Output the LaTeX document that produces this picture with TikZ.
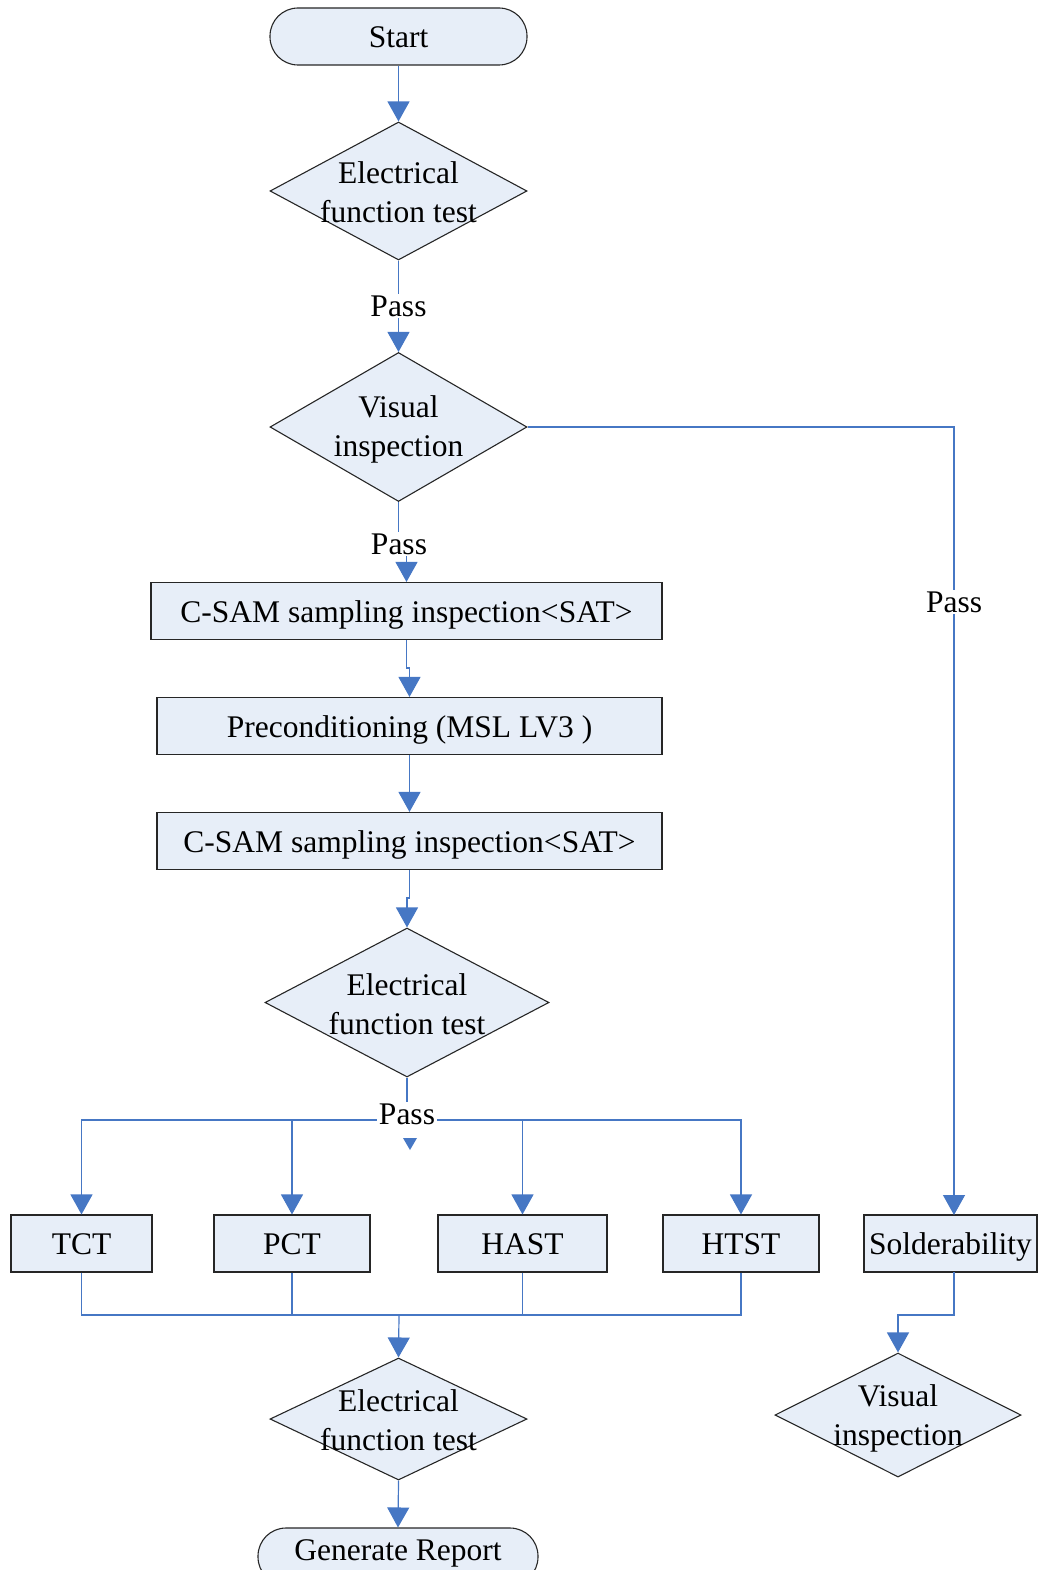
\documentclass[tikz,border=0pt]{standalone}
\usepackage{fontspec}
\setmainfont{Liberation Serif}
\usetikzlibrary{shapes.geometric,arrows.meta}
\definecolor{fillc}{HTML}{E7EEF8}
\definecolor{linec}{HTML}{4677C4}
\begin{document}
\begin{tikzpicture}[x=1pt,y=-1pt,
  font=\fontsize{31.5}{39}\selectfont,
  box/.style={draw=black!85, fill=fillc, line width=1.1pt, inner sep=0pt, minimum height=57pt, rectangle, text height=28pt, text depth=6pt},
  term/.style={box, rounded corners=28pt},
  dec/.style={draw=black!85, fill=fillc, line width=1.1pt, diamond, inner sep=0pt},
  dtext/.style={align=center, inner sep=0pt},
  plain/.style={draw=linec, line width=1.2pt},
  conn/.style={plain, -{Triangle[length=20pt,width=22pt]}},
  lbl/.style={fill=white, inner sep=2pt}]
\useasboundingbox (0,0) rectangle (1040,1570);

% nodes
\node[term, minimum width=257pt] (start) at (398.5,36.5) {Start};
\node[dec, minimum width=257pt, minimum height=138pt] (d1) at (398.5,191) {};
\node[dtext] (t1) at (398.5,192) {Electrical\\function test};
\node[dec, minimum width=257pt, minimum height=149pt] (d2) at (398.5,427) {};
\node[dtext] (t2) at (398.5,429) {Visual\\inspection};
\node[box, minimum width=511pt] (b1) at (406.5,611) {C-SAM sampling inspection<SAT>};
\node[box, minimum width=505pt] (b2) at (409.5,726) {Preconditioning (MSL LV3 )};
\node[box, minimum width=505pt] (b3) at (409.5,841) {C-SAM sampling inspection<SAT>};
\node[dec, minimum width=284pt, minimum height=149pt] (d3) at (407,1002.5) {};
\node[dtext] (t3) at (407,1004) {Electrical\\function test};
\node[box, minimum width=141pt] (tct) at (81.5,1243.5) {TCT};
\node[box, minimum width=156pt] (pct) at (292,1243.5) {PCT};
\node[box, minimum width=169pt] (hast) at (522.5,1243.5) {HAST};
\node[box, minimum width=156pt] (htst) at (741,1243.5) {HTST};
\node[box, minimum width=173pt] (sold) at (950.5,1243.5) {Solderability};
\node[dec, minimum width=257pt, minimum height=122pt] (d4) at (398.5,1419) {};
\node[dtext] (t4) at (398.5,1420) {Electrical\\function test};
\node[term, minimum width=280pt] (rep) at (398,1556.5) {\raisebox{7pt}{Generate Report}};
\node[dec, minimum width=246pt, minimum height=124pt] (d5) at (898,1415) {};
\node[dtext] (t5) at (898,1418.5) {Visual\\inspection};

% connectors
\coordinate (split) at (407,1120);
\coordinate (merge) at (399,1315);
\coordinate (sin) at (954,1215);
\coordinate (sout) at (954,1272);
\draw[conn] (start.south) -- (d1.north);
\draw[conn] (d1.south) -- (d2.north);
\draw[conn] (d2.south) -- (398.5,552) -- (406.5,552) -- (b1.north);
\draw[conn] (b1.south) -- (406.5,668) -- (409.5,668) -- (b2.north);
\draw[conn] (b2.south) -- (b3.north);
\draw[conn] (b3.south) -- (409.5,898) -- (407,898) -- (d3.north);
\draw[plain] (d3.south) -- (split);
\draw[conn] (split) -| (tct.north);
\draw[conn] (split) -| (pct.north);
\draw[conn] (split) -| (hast.north);
\draw[conn] (split) -| (htst.north);
\draw[plain] (tct.south) |- (merge);
\draw[plain] (pct.south) |- (merge);
\draw[plain] (hast.south) |- (merge);
\draw[plain] (htst.south) |- (merge);
\draw[conn] (merge) -- (d4.north);
\draw[conn] (d4.south) -- (rep.north);
\draw[conn] (d2.east) -| (sin);
\draw[conn] (sout) -- (954,1315) -| (d5.north);

% labels
\node[lbl] (p1) at (398.5,306) {Pass};
\node[lbl] (p2) at (399,544) {Pass};
\node[lbl] (p3) at (954,602) {Pass};
\node[lbl] (p4) at (407,1114) {Pass};
\fill[linec] (403,1138) -- (417,1138) -- (410,1150) -- cycle;
\end{tikzpicture}
\end{document}
